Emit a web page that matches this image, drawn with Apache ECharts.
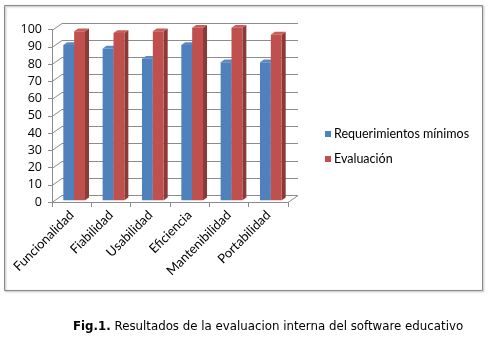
<!DOCTYPE html>
<html>
<head>
<meta charset="utf-8">
<script src="https://cdn.jsdelivr.net/npm/echarts@6/dist/echarts.min.js"></script>
<style>
  html, body { margin: 0; padding: 0; background: #fff; }
  #chart { width: 488px; height: 345px; }
</style>
</head>
<body>
<div id="chart"></div>
<script>
// Quality characteristics evaluated
const categories = ['Funcionalidad', 'Fiabilidad', 'Usabilidad', 'Eficiencia', 'Mantenibilidad', 'Portabilidad'];
// Minimum requirement per characteristic
const requerimientos = [90, 88, 82, 90, 80, 80];
// Score obtained in the evaluation
const evaluacion = [98, 97, 98, 100, 100, 96];
// Value axis ticks
const yTicks = [0, 10, 20, 30, 40, 50, 60, 70, 80, 90, 100];

const seriesNames = ['Requerimientos mínimos', 'Evaluación'];
const palette = {
  blue: { front: '#4F81BD', side: '#385E8D', top: '#5A8BC6' },
  red:  { front: '#C0504D', side: '#8C3A38', top: '#C95D5A' }
};

// Depth of the back wall (pixels in x and y)
const DEPTH = [10, -7];
const FONT = 'Lato, "Open Sans", sans-serif';

// Back wall / side wall gridlines for the pseudo-3D box
function renderWall(params, api) {
  const cs = params.coordSys;
  const v = api.value(1);
  const y = Math.round(api.coord([0, v])[1]) + 0.5;
  const x0 = cs.x, x1 = cs.x + cs.width;
  const bx0 = x0 + DEPTH[0], by = y + DEPTH[1];
  const style = { stroke: '#8c8c8c', lineWidth: 1, fill: null };
  const children = [
    { type: 'line', shape: { x1: x0, y1: y, x2: bx0, y2: by }, style },
    { type: 'line', shape: { x1: bx0, y1: by, x2: x1 + DEPTH[0], y2: by }, style }
  ];
  if (v === 0) {
    children.push({ type: 'line', shape: { x1: x1, y1: y, x2: x1 + DEPTH[0], y2: by }, style });
  }
  return { type: 'group', children };
}

// Pseudo-3D column: front face, right side face and top face
function makeBarRenderer(colors, side) {
  return function (params, api) {
    const idx = api.value(0);
    const val = api.value(1);
    const base = api.coord([idx, 0]);
    const topPt = api.coord([idx, val]);
    const bw = api.size([1, 0])[0];
    const w = bw * 0.276;
    const f0 = 0.25, f1 = 0.65;
    const sx = DEPTH[0] * f0, sy = DEPTH[1] * f0;
    const dx = DEPTH[0] * (f1 - f0), dy = DEPTH[1] * (f1 - f0);
    const left = base[0] + (side < 0 ? -w : 0) + sx;
    const right = left + w;
    const yb = base[1] + sy;
    const yt = topPt[1] + sy;
    return {
      type: 'group',
      children: [
        { type: 'polygon', shape: { points: [[right, yt], [right + dx, yt + dy], [right + dx, yb + dy], [right, yb]] },
          style: { fill: colors.side } },
        { type: 'polygon', shape: { points: [[left, yt], [right, yt], [right + dx, yt + dy], [left + dx, yt + dy]] },
          style: { fill: colors.top } },
        { type: 'rect', shape: { x: left, y: yt, width: w, height: yb - yt },
          style: { fill: colors.front } }
      ]
    };
  };
}

const chart = echarts.init(document.getElementById('chart'), null, { renderer: 'canvas' });

chart.setOption({
  animation: false,
  backgroundColor: '#fff',
  title: {
    left: 73,
    top: 321,
    padding: 0,
    text: '{b|Fig.1.} Resultados de la evaluacion interna del software educativo',
    textStyle: {
      fontFamily: '"DejaVu Sans", Verdana, sans-serif',
      fontSize: 11.8,
      fontWeight: 'normal',
      color: '#000',
      rich: {
        b: { fontFamily: '"DejaVu Sans", Verdana, sans-serif', fontSize: 11.8, fontWeight: 'bold', color: '#000' }
      }
    }
  },
  graphic: [{
    type: 'rect',
    shape: { x: 4.5, y: 5.5, width: 478, height: 285 },
    style: { fill: null, stroke: '#8a8a8a', lineWidth: 1,
      shadowBlur: 2, shadowOffsetX: 1, shadowOffsetY: 1, shadowColor: 'rgba(0,0,0,0.35)' },
    z: -1
  }],
  legend: {
    orient: 'vertical',
    left: 320,
    top: 122,
    itemWidth: 6,
    itemHeight: 6,
    itemGap: 11,
    icon: 'rect',
    data: seriesNames,
    textStyle: { fontFamily: FONT, fontSize: 12.5, color: '#000', lineHeight: 14, padding: [0, 0, 0, -2] }
  },
  grid: { left: 52, right: 200, top: 29.5, bottom: 143 },
  xAxis: {
    type: 'category',
    data: categories,
    axisLine: { show: true, lineStyle: { color: '#8c8c8c' } },
    axisTick: { show: true, length: 5, lineStyle: { color: '#8c8c8c' } },
    axisLabel: { rotate: 45, margin: 11, fontFamily: FONT, fontSize: 13, color: '#000', interval: 0 },
    splitLine: { show: false }
  },
  yAxis: {
    type: 'value',
    min: 0,
    max: 100,
    interval: 10,
    axisLine: { show: true, lineStyle: { color: '#8c8c8c' } },
    axisTick: { show: true, length: 4, lineStyle: { color: '#8c8c8c' } },
    axisLabel: { margin: 10, fontFamily: '"Open Sans", sans-serif', fontSize: 12.5, color: '#000' },
    splitLine: { show: false }
  },
  series: [
    {
      type: 'custom',
      name: 'wall',
      silent: true,
      renderItem: renderWall,
      data: yTicks.map(v => [0, v]),
      z: 1
    },
    {
      type: 'custom',
      name: seriesNames[0],
      itemStyle: { color: palette.blue.front },
      renderItem: makeBarRenderer(palette.blue, -1),
      data: requerimientos.map((v, i) => [i, v]),
      z: 2
    },
    {
      type: 'custom',
      name: seriesNames[1],
      itemStyle: { color: palette.red.front },
      renderItem: makeBarRenderer(palette.red, 1),
      data: evaluacion.map((v, i) => [i, v]),
      z: 3
    }
  ]
});
</script>
</body>
</html>
